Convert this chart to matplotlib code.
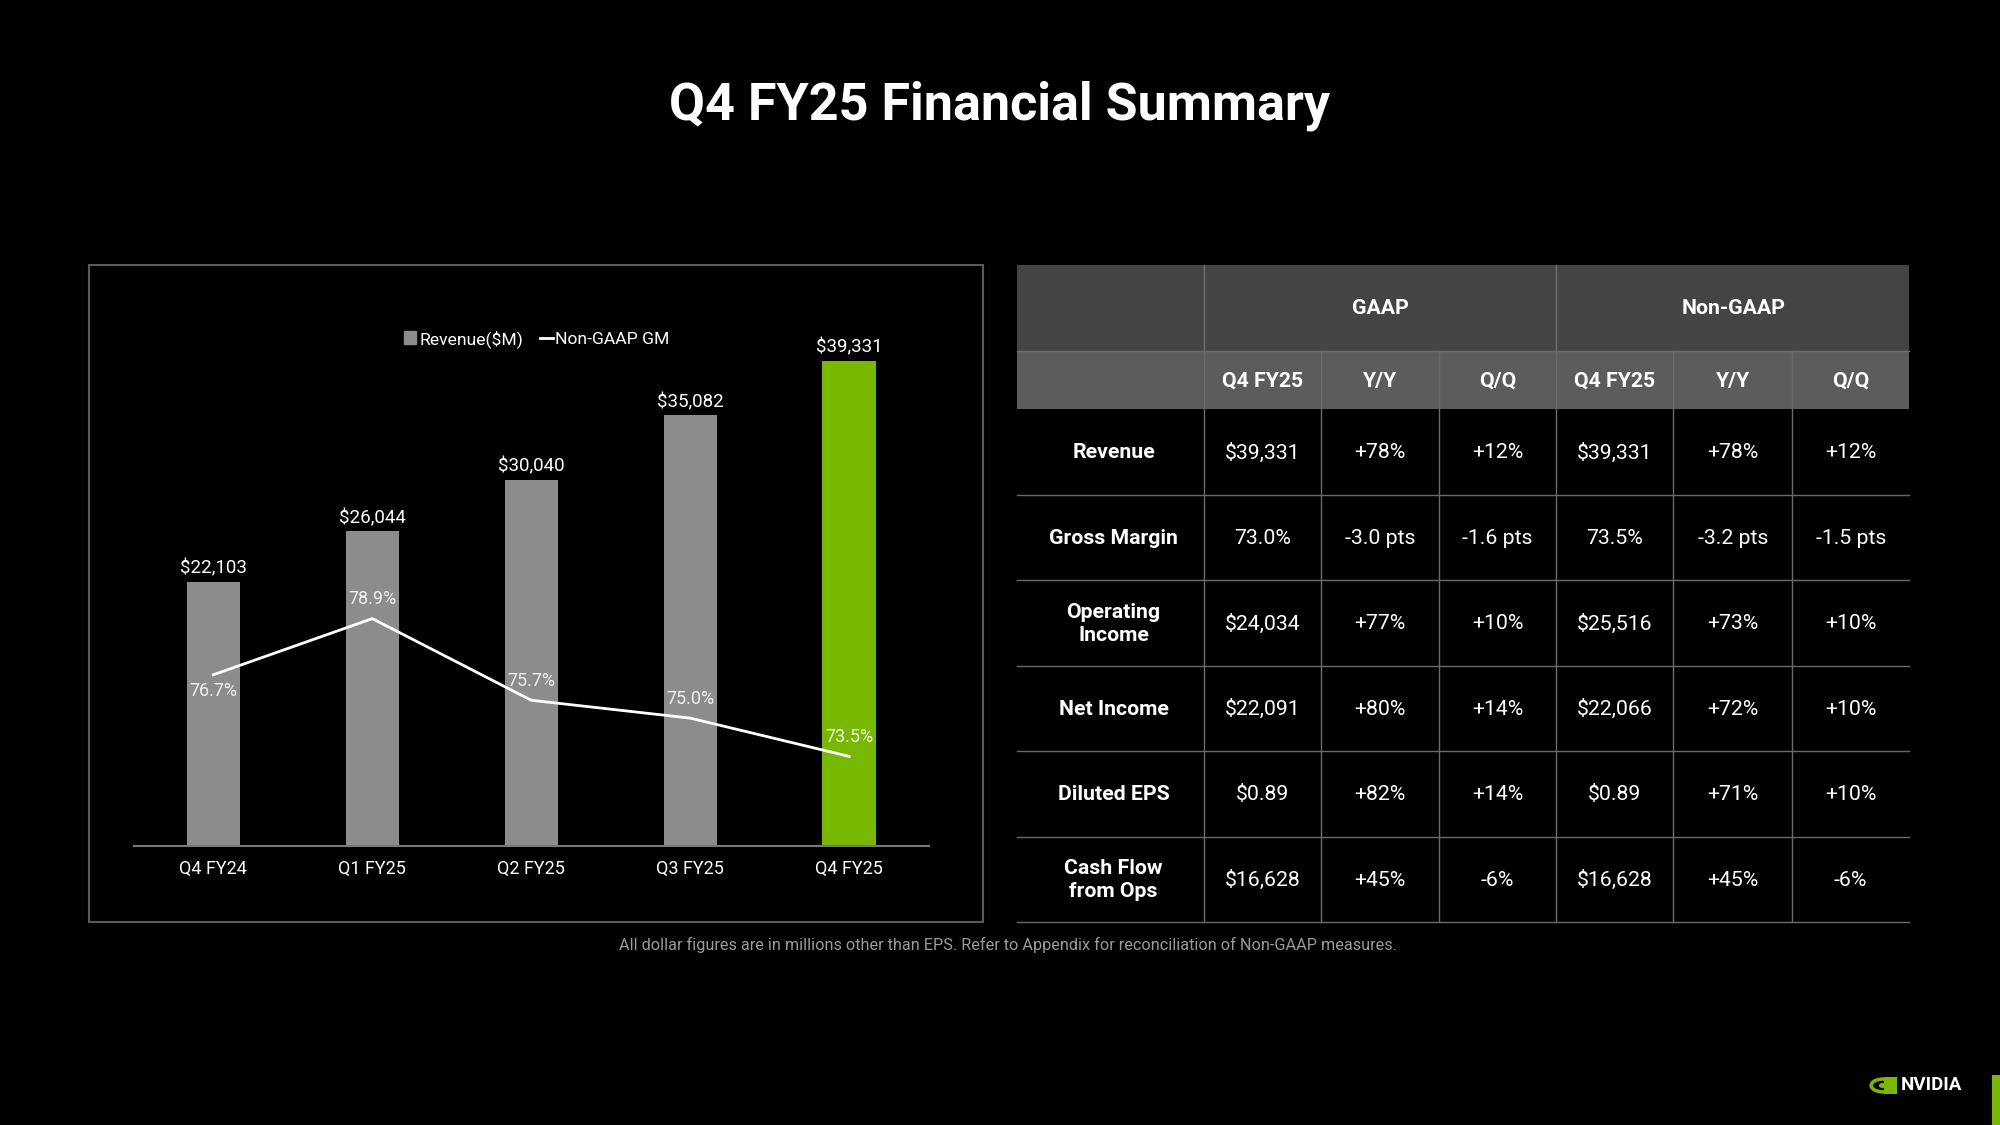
import numpy as np
import matplotlib
matplotlib.use("Agg")
import matplotlib.pyplot as plt
from matplotlib.patches import Rectangle, Patch, Ellipse
from matplotlib.lines import Line2D

plt.rcParams['font.family'] = ['Roboto', 'DejaVu Sans']

# chart data
quarters = ["Q4 FY24", "Q1 FY25", "Q2 FY25", "Q3 FY25", "Q4 FY25"]
revenue = [22103, 26044, 30040, 35082, 39331]
gm = [76.7, 78.9, 75.7, 75.0, 73.5]

# table data
row_labels = ["Revenue", "Gross Margin", "Operating\nIncome", "Net Income",
              "Diluted EPS", "Cash Flow\nfrom Ops"]
sub_headers = ["Q4 FY25", "Y/Y", "Q/Q", "Q4 FY25", "Y/Y", "Q/Q"]
gaap_q4 = ["$39,331", "73.0%", "$24,034", "$22,091", "$0.89", "$16,628"]
gaap_yy = ["+78%", "-3.0 pts", "+77%", "+80%", "+82%", "+45%"]
gaap_qq = ["+12%", "-1.6 pts", "+10%", "+14%", "+14%", "-6%"]
ng_q4 = ["$39,331", "73.5%", "$25,516", "$22,066", "$0.89", "$16,628"]
ng_yy = ["+78%", "-3.2 pts", "+73%", "+72%", "+71%", "+45%"]
ng_qq = ["+12%", "-1.5 pts", "+10%", "+10%", "+10%", "-6%"]

GREEN = "#76b900"
BAR_GRAY = "#8c8c8c"
W, H = 1568, 882  # layout units

fig = plt.figure(figsize=(20, 11.25), dpi=100, facecolor="black")

# background layer in layout units
lay = fig.add_axes([0, 0, 1, 1])
lay.set_xlim(0, W)
lay.set_ylim(H, 0)
lay.axis("off")
lay.set_facecolor("black")

lay.text(784, 83, "Q4 FY25 Financial Summary", color="white", fontsize=37.5,
         fontweight="bold", ha="center", va="center")

# chart frame
lay.add_patch(Rectangle((70, 208), 701, 515, fill=False, ec="#5a5a5a", lw=1.5))

# ---- table ----
col_x = [797, 944, 1036, 1128, 1220, 1312, 1405, 1497]
row_y = [208, 275, 321, 388, 455, 522, 589, 656, 723]
grid = "#6a6a6a"
fs_tab = 15.3

lay.add_patch(Rectangle((797, 208), 700, 67, color="#444444", lw=0))
lay.add_patch(Rectangle((797, 275), 700, 46, color="#5c5c5c", lw=0))
lay.plot([797, 1497], [275, 275], color="#6e6e6e", lw=1)
for x in (944, 1220):
    lay.plot([x, x], [208, 275], color="#6e6e6e", lw=1)
lay.text(1082, 242, "GAAP", color="white", fontsize=fs_tab, fontweight="bold",
         ha="center", va="center")
lay.text(1359, 242, "Non-GAAP", color="white", fontsize=fs_tab, fontweight="bold",
         ha="center", va="center")
for i, h in enumerate(sub_headers):
    cx = (col_x[i + 1] + col_x[i + 2]) / 2
    lay.text(cx, 299, h, color="white", fontsize=fs_tab, fontweight="bold",
             ha="center", va="center")
for x in col_x[1:-1]:
    lay.plot([x, x], [275, 723], color=grid, lw=1)
for y in row_y[3:]:
    lay.plot([797, 1497], [y, y], color=grid, lw=1)

cols = [gaap_q4, gaap_yy, gaap_qq, ng_q4, ng_yy, ng_qq]
for r, lab in enumerate(row_labels):
    cy = (row_y[r + 2] + row_y[r + 3]) / 2 + 0.5
    lay.text(873, cy, lab, color="white", fontsize=fs_tab, fontweight="bold",
             ha="center", va="center", linespacing=1.25)
    for c, vals in enumerate(cols):
        cx = (col_x[c + 1] + col_x[c + 2]) / 2
        lay.text(cx, cy, vals[r], color="white", fontsize=fs_tab,
                 ha="center", va="center")

lay.text(790, 741, "All dollar figures are in millions other than EPS. Refer to "
         "Appendix for reconciliation of Non-GAAP measures.",
         color="#9a9a9a", fontsize=11.7, ha="center", va="center")

# logo
lay.add_patch(Rectangle((1477, 844), 10, 14, color=GREEN, lw=0))
lay.add_patch(Ellipse((1476, 851), 18, 10, fill=False, ec=GREEN, lw=2.5))
lay.add_patch(Ellipse((1476, 851), 6, 4, color=GREEN, lw=0))
lay.text(1490, 851, "NVIDIA", color="white", fontsize=13.5, fontweight="bold",
         ha="left", va="center")
lay.add_patch(Rectangle((1562, 843), 6, 39, color=GREEN, lw=0))

# ---- chart ----
ax = fig.add_axes([105 / W, 1 - 663 / H, (728 - 105) / W, (663 - 283) / H])
ax.set_facecolor("none")
x = np.arange(len(quarters))
colors = [BAR_GRAY] * (len(quarters) - 1) + [GREEN]
bars = ax.bar(x, revenue, width=0.335, color=colors, zorder=2)
ax.set_xlim(-0.5, 4.5)
ax.set_ylim(1500, 39331)
for b, v in zip(bars, revenue):
    ax.annotate(f"${v:,}", (b.get_x() + b.get_width() / 2, v),
                xytext=(0, 3), textcoords="offset points",
                ha="center", va="bottom", color="white", fontsize=13.5)
ax.set_xticks(x)
ax.set_xticklabels(quarters, color="white", fontsize=13)
ax.tick_params(axis="x", length=0, pad=10.5)
ax.set_yticks([])
for s in ("top", "right", "left"):
    ax.spines[s].set_visible(False)
ax.spines["bottom"].set_color("#777777")
ax.spines["bottom"].set_linewidth(1.5)
ax.spines["bottom"].set_zorder(3)

ax2 = ax.twinx()
ax2.set_ylim(70, 89)
ax2.plot(x, gm, color="white", lw=2, zorder=4)
ax2.axis("off")
for i, v in enumerate(gm):
    dy = -12 if i == 0 else 14
    ax2.annotate(f"{v:.1f}%", (x[i], v), xytext=(0, dy), textcoords="offset points",
                 ha="center", va="center", color="#f0f0f0", fontsize=13)

handles = [Patch(color=BAR_GRAY), Line2D([], [], color="white", lw=2)]
fig.legend(handles, ["Revenue($M)", "Non-GAAP GM"], loc="center",
           bbox_to_anchor=(421 / W, 1 - 265.5 / H), ncol=2, frameon=False,
           handlelength=0.7, handleheight=0.7, handletextpad=0.15,
           columnspacing=1.0, labelcolor="white", fontsize=12.6)

fig.savefig("out.png", dpi=100, facecolor="black")
